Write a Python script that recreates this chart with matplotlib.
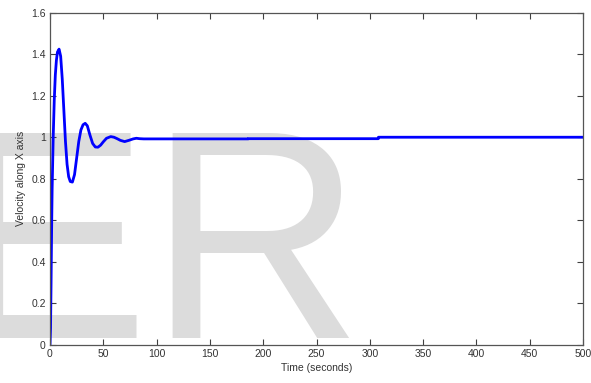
import matplotlib
matplotlib.use('Agg')
import matplotlib.pyplot as plt

plt.rcParams['font.family'] = ['Liberation Sans Narrow', 'Liberation Sans', 'DejaVu Sans']

# velocity response
time_s = [0, 0.5, 1, 1.5, 2, 3, 4, 5, 6, 7, 8.5, 10, 11.5, 13, 14.5, 16, 17.5,
          19, 21, 23, 25, 27, 29, 31, 33, 35, 37.5, 40, 42.5, 45, 47.5, 50, 53,
          57, 60, 63, 66, 70, 74, 78, 81, 84, 88, 186, 186, 308, 308, 500]
velocity = [0, 0.08, 0.3, 0.55, 0.75, 1.0, 1.18, 1.3, 1.37, 1.41, 1.424, 1.39,
            1.28, 1.13, 0.98, 0.87, 0.81, 0.787, 0.784, 0.82, 0.9, 0.98, 1.035,
            1.06, 1.067, 1.055, 1.01, 0.97, 0.953, 0.952, 0.962, 0.978, 0.995,
            1.003, 1.0, 0.993, 0.985, 0.979, 0.985, 0.992, 0.995, 0.993, 0.992,
            0.992, 0.993, 0.993, 1.0, 1.0]

xticks = [0, 50, 100, 150, 200, 250, 300, 350, 400, 450, 500]
yticks = [0, 0.2, 0.4, 0.6, 0.8, 1, 1.2, 1.4, 1.6]
ytick_labels = ['0', '0.2', '0.4', '0.6', '0.8', '1', '1.2', '1.4', '1.6']

fig = plt.figure(figsize=(5.91, 3.83), dpi=100)
ax = fig.add_axes([0.0846, 0.0992, 0.902, 0.868])
ax.patch.set_visible(False)

# watermark behind the axes
fig.text(-49 / 591, 45 / 383, 'ER', fontsize=214, color='#dcdcdc',
         family=['Liberation Sans', 'DejaVu Sans'], ha='left', va='baseline', zorder=-1)

ax.plot(time_s, velocity, color='#0000ff', lw=2)

ax.set_xlim(0, 500)
ax.set_ylim(0, 1.6)
ax.set_xticks(xticks)
ax.set_yticks(yticks)
ax.set_yticklabels(ytick_labels)
ax.tick_params(direction='in', length=4, width=0.8, top=True, right=True,
               labelsize=7.5, colors='#404040', labelcolor='#333333', pad=3)
for s in ax.spines.values():
    s.set_color('#555555')
    s.set_linewidth(0.9)

ax.set_xlabel('Time (seconds)', fontsize=7.5, color='#333333', labelpad=3)
ax.set_ylabel('Velocity along X axis', fontsize=7.5, color='#333333', labelpad=4)

fig.savefig('out.png', dpi=100)
